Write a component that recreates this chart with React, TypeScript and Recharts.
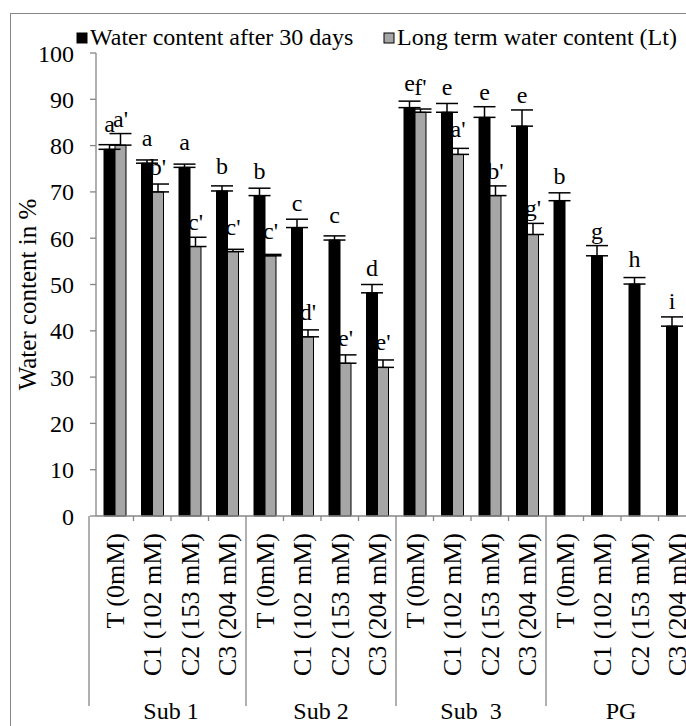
import React from 'react';
import { BarChart, Bar, XAxis, YAxis, ErrorBar, LabelList, Legend } from 'recharts';

// Treatment labels, four per substrate group
const categories = [
  'T (0mM)', 'C1 (102 mM)', 'C2 (153 mM)', 'C3 (204 mM)',
  'T (0mM)', 'C1 (102 mM)', 'C2 (153 mM)', 'C3 (204 mM)',
  'T (0mM)', 'C1 (102 mM)', 'C2 (153 mM)', 'C3 (204 mM)',
  'T (0mM)', 'C1 (102 mM)', 'C2 (153 mM)', 'C3 (204 mM)',
];
const groups = ['Sub 1', 'Sub 2', 'Sub  3', 'PG'];

// Water content after 30 days (%)
const after30 = [79.2, 76.2, 75.3, 70.2, 69.2, 62.3, 59.6, 48.2, 88.2, 87.2, 86.1, 84.2, 68.1, 56.2, 50.1, 41.0];
const after30Err = [1.0, 0.7, 0.7, 1.1, 1.6, 1.8, 0.9, 1.8, 1.4, 1.9, 2.3, 3.5, 1.7, 2.2, 1.4, 2.0];
const after30Letters = ['a', 'a', 'a', 'b', 'b', 'c', 'c', 'd', 'e', 'e', 'e', 'e', 'b', 'g', 'h', 'i'];

// Long term water content (Lt, %) – not measured for PG
const longTerm = [80.1, 70.0, 58.2, 57.1, 56.2, 38.7, 33.0, 32.1, 87.2, 78.1, 69.2, 60.8, null, null, null, null];
const longTermErr = [2.5, 1.7, 2.0, 0.5, 0.3, 1.5, 1.8, 1.6, 0.7, 1.3, 2.1, 2.4, null, null, null, null];
const longTermLetters = ["a'", "b'", "c'", "c'", "c'", "d'", "e'", "e'", "f'", "a'", "b'", "g'", '', '', '', ''];

const yTicks = [0, 10, 20, 30, 40, 50, 60, 70, 80, 90, 100];

const seriesNames = ['Water content after 30 days', 'Long term water content (Lt)'];

const FONT = "'Liberation Serif', 'Times New Roman', serif";
const AXIS = '#868686';
const GREY = '#a6a6a6';

const data = categories.map((cat, i) => ({
  idx: i,
  cat,
  after: after30[i],
  afterErr: [0, after30Err[i]],
  lt: longTerm[i],
  ltErr: longTerm[i] == null ? null : [0, longTermErr[i] as number],
}));

// Significance letter placed above the bar (and clear of its error cap)
const makeLetterLabel = (letters: string[], errs: (number | null)[]) => (props: any) => {
  const vb = props.viewBox || props;
  const x = Number(props.x ?? vb.x);
  const y = Number(props.y ?? vb.y);
  const w = Number(props.width ?? vb.width);
  const h = Number(props.height ?? vb.height);
  const value = Number(props.value);
  const i = props.index;
  const text = letters[i];
  if (!text || !isFinite(value) || value === 0) return null;
  const pxPerUnit = Math.abs(h) / value;
  const capY = y - (errs[i] ?? 0) * pxPerUnit;
  const baseline = Math.min(y - 17, capY - 7);
  return (
    <text x={x + w / 2} y={baseline} textAnchor="middle" fontFamily={FONT} fontSize={24} fill="#000">
      {text}
    </text>
  );
};

// Category axis: rotated treatment labels, boundary ticks and group labels
const CategoryTick = (props: any) => {
  const { x, y, payload } = props;
  const i = Number(payload.value);
  const half = typeof payload.offset === 'number' && payload.offset > 0
    ? payload.offset
    : Number(props.width) / categories.length / 2;
  const left = x - half;
  const ty = y + 17;
  const isGroupStart = i % 4 === 0;
  const sepX = i === 0 ? left - 7 : left;
  return (
    <g>
      {isGroupStart ? (
        <line x1={sepX} y1={y} x2={sepX} y2={y + 190} stroke={AXIS} strokeWidth={1.3} />
      ) : (
        <line x1={left} y1={y} x2={left} y2={y + 5} stroke={AXIS} strokeWidth={1.3} />
      )}
      <text
        x={x}
        y={ty}
        dy="0.35em"
        transform={`rotate(-90, ${x}, ${ty})`}
        textAnchor="end"
        fontFamily={FONT}
        fontSize={26}
        fill="#000"
      >
        {categories[i]}
      </text>
      {isGroupStart && (
        <text
          x={left + half * 4}
          y={y + 203}
          textAnchor="middle"
          fontFamily={FONT}
          fontSize={24}
          fill="#000"
          style={{ whiteSpace: 'pre' }}
        >
          {groups[i / 4]}
        </text>
      )}
    </g>
  );
};

const YTitle = (props: any) => {
  const vb = props.viewBox || {};
  const cy = vb.y != null && vb.height != null ? vb.y + vb.height / 2 + 10 : 295;
  const cx = 36;
  return (
    <text
      x={cx}
      y={cy}
      transform={`rotate(-90, ${cx}, ${cy})`}
      textAnchor="middle"
      fontFamily={FONT}
      fontSize={25}
      fill="#000"
    >
      Water content in %
    </text>
  );
};

const renderLegend = () => (
  <div style={{ position: 'relative', width: 0, height: 0 }}>
    <svg width={686} height={60} style={{ position: 'absolute', left: 0, top: 0, overflow: 'visible' }}>
      <rect x={77} y={33} width={10} height={10} fill="#000" stroke="#000" strokeWidth={1} />
      <text x={90} y={45} fontFamily={FONT} fontSize={24} fill="#000">{seriesNames[0]}</text>
      <rect x={384} y={33} width={10} height={10} fill={GREY} stroke="#000" strokeWidth={1} />
      <text x={397} y={45} fontFamily={FONT} fontSize={24} fill="#000">{seriesNames[1]}</text>
    </svg>
  </div>
);

export default function App() {
  return (
    <div
      style={{
        position: 'absolute',
        left: 0,
        top: 0,
        width: 686,
        height: 726,
        overflow: 'hidden',
        background: '#fff',
      }}
    >
      <div
        style={{
          position: 'absolute',
          left: 10,
          top: 13,
          width: 700,
          height: 760,
          border: `1.5px solid ${AXIS}`,
          boxSizing: 'border-box',
        }}
      />
      <div style={{ position: 'absolute', left: 0, top: 0 }}>
        <BarChart
          width={700}
          height={740}
          data={data}
          margin={{ top: 53, right: 4, bottom: 0, left: 0 }}
          barGap={0}
          barSize={11}
        >
          <Legend
            verticalAlign="top"
            layout="horizontal"
            content={renderLegend}
            wrapperStyle={{ position: 'absolute', top: 0, left: 0, width: 0, height: 0 }}
          />
          <XAxis
            dataKey="idx"
            type="category"
            height={224}
            interval={0}
            tickLine={false}
            tickSize={0}
            tickMargin={0}
            axisLine={{ stroke: AXIS, strokeWidth: 1.3 }}
            tick={<CategoryTick />}
          />
          <YAxis
            width={96}
            domain={[0, 100]}
            ticks={yTicks}
            interval={0}
            tickSize={6}
            tickMargin={16}
            axisLine={{ stroke: AXIS, strokeWidth: 1.3 }}
            tickLine={{ stroke: AXIS, strokeWidth: 1.3 }}
            tick={{ fill: '#000', fontFamily: FONT, fontSize: 24 }}
            label={<YTitle />}
          />
          <Bar dataKey="after" name={seriesNames[0]} fill="#000" stroke="#000" strokeWidth={1} isAnimationActive={false}>
            <ErrorBar dataKey="afterErr" width={11} stroke="#000" strokeWidth={1.5} direction="y" />
            <LabelList dataKey="after" content={makeLetterLabel(after30Letters, after30Err)} />
          </Bar>
          <Bar dataKey="lt" name={seriesNames[1]} fill={GREY} stroke="#000" strokeWidth={1} isAnimationActive={false}>
            <ErrorBar dataKey="ltErr" width={11} stroke="#000" strokeWidth={1.5} direction="y" />
            <LabelList dataKey="lt" content={makeLetterLabel(longTermLetters, longTermErr)} />
          </Bar>
        </BarChart>
      </div>
    </div>
  );
}
